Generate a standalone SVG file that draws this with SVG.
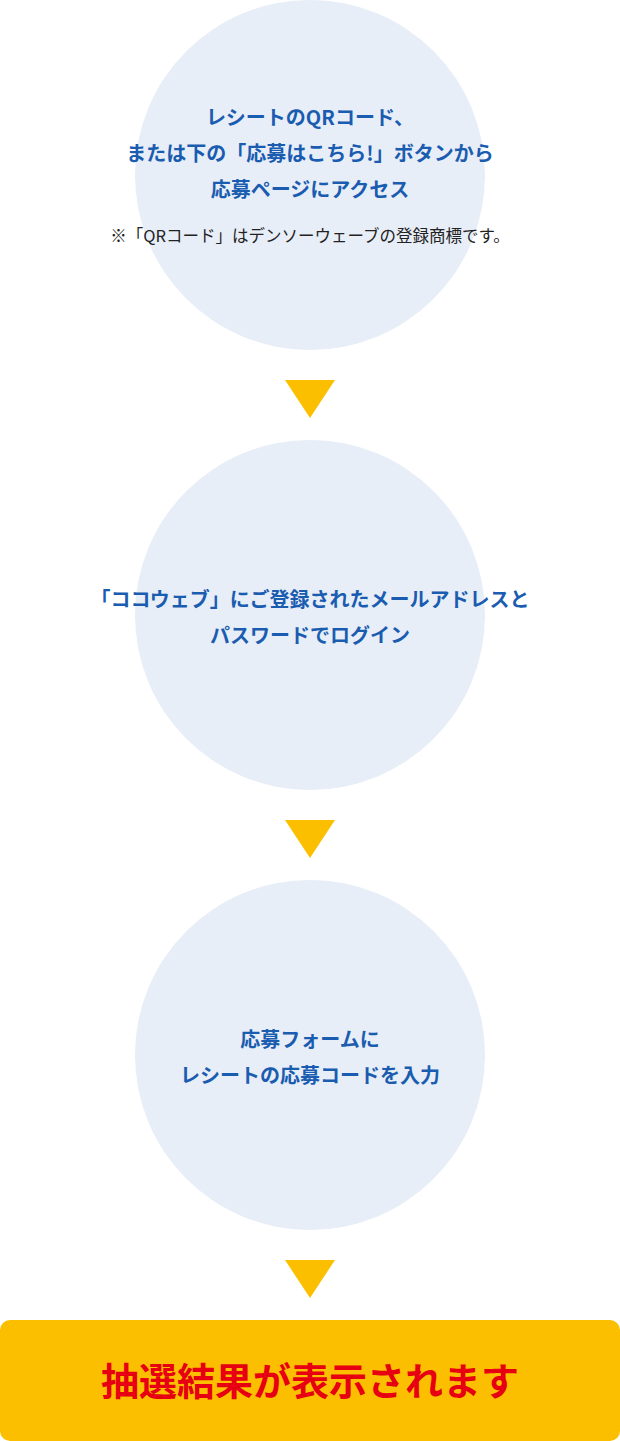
<svg xmlns="http://www.w3.org/2000/svg" width="620" height="1441" viewBox="0 0 620 1441">
<style>
.c{fill:#e8eef7}
.t{font-family:"Noto Sans CJK JP","Noto Sans",sans-serif;font-weight:bold;font-size:20px;fill:#1a5cb0;text-anchor:middle}
.n{font-family:"Noto Sans CJK JP","Noto Sans",sans-serif;font-size:16.5px;fill:#222;text-anchor:middle}
.a{fill:#fcbf00}
</style>
<rect width="620" height="1441" fill="#fff"/>
<g id="step1"><circle class="c" cx="310" cy="175" r="175"/>
<text class="t" x="310" y="125">レシートのQRコード、</text>
<text class="t" x="310" y="161">または下の「応募はこちら!」ボタンから</text>
<text class="t" x="310" y="197">応募ページにアクセス</text>
<text class="n" x="310" y="242">※「QRコード」はデンソーウェーブの登録商標です。</text></g>
<g id="step2"><circle class="c" cx="310" cy="615" r="175"/>
<text class="t" x="310" y="607">「ココウェブ」にご登録されたメールアドレスと</text>
<text class="t" x="310" y="643">パスワードでログイン</text></g>
<g id="step3"><circle class="c" cx="310" cy="1055" r="175"/>
<text class="t" x="310" y="1047">応募フォームに</text>
<text class="t" x="310" y="1083">レシートの応募コードを入力</text></g>
<g id="connectors">
<polygon class="a" points="285,380 335,380 310,418"/>
<polygon class="a" points="285,820 335,820 310,858"/>
<polygon class="a" points="285,1260 335,1260 310,1298"/>
</g>
<g id="result"><rect x="0" y="1320" width="620" height="121" rx="10" fill="#fcbf00"/>
<text x="310" y="1395" font-family="Noto Sans CJK JP,sans-serif" font-weight="bold" font-size="38" fill="#e60012" text-anchor="middle">抽選結果が表示されます</text></g>
</svg>
